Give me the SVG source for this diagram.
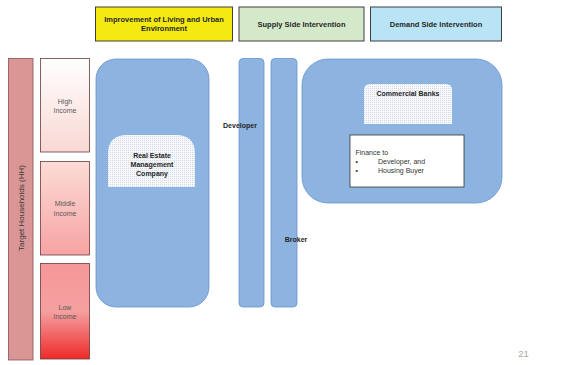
<svg xmlns="http://www.w3.org/2000/svg" width="561" height="365" viewBox="0 0 561 365">
<style>
.hdr{stroke:#3f3f3f;stroke-width:1}
.ht{font-family:"Liberation Sans",Arial,sans-serif;font-size:7.5px;font-weight:bold;fill:#262626;text-anchor:middle}
.inc{stroke:#6b3a3a;stroke-width:0.8}
.it{font-family:"Liberation Sans",Arial,sans-serif;font-size:7px;fill:#595959;text-anchor:middle}
.blue{fill:#8db3e0;stroke:#6a93c9;stroke-width:0.8}
.bt{font-family:"Liberation Sans",Arial,sans-serif;font-size:7px;font-weight:bold;fill:#262626;text-anchor:middle}
.tex{fill:url(#dots)}
.ft{font-family:"Liberation Sans",Arial,sans-serif;font-size:7px;fill:#333}
</style>
<defs>
<pattern id="dots" width="2" height="2" patternUnits="userSpaceOnUse">
<rect width="2" height="2" fill="#f7f8fb"/>
<rect width="1" height="1" fill="#d3dae6"/>
</pattern>
<linearGradient id="gHigh" x1="0" y1="0" x2="0" y2="1">
<stop offset="0" stop-color="#ffffff"/>
<stop offset="1" stop-color="#f9d8d3"/>
</linearGradient>
<linearGradient id="gMid" x1="0" y1="0" x2="0" y2="1">
<stop offset="0" stop-color="#fcdcd6"/>
<stop offset="1" stop-color="#f6a3a3"/>
</linearGradient>
<linearGradient id="gLow" x1="0" y1="0" x2="0" y2="1">
<stop offset="0" stop-color="#f6979a"/>
<stop offset="0.5" stop-color="#f5a0a0"/>
<stop offset="1" stop-color="#ee2a2a"/>
</linearGradient>
</defs>
<rect width="561" height="365" fill="#ffffff"/>

<g id="hdr-living">
<rect class="hdr" x="95.5" y="7" width="137" height="34" fill="#f5e912"/>
<text class="ht" x="164" y="21.5">Improvement of Living and Urban</text>
<text class="ht" x="164" y="31">Environment</text>
</g>
<g id="hdr-supply">
<rect class="hdr" x="239" y="7" width="125" height="34" fill="#d4e9c9"/>
<text class="ht" x="301.5" y="26.5">Supply Side Intervention</text>
</g>
<g id="hdr-demand">
<rect class="hdr" x="370.5" y="7" width="131" height="34" fill="#b9e4f6"/>
<text class="ht" x="436" y="26.5">Demand Side Intervention</text>
</g>

<g id="target">
<rect x="8.5" y="58.5" width="24.5" height="301.5" fill="#d99694" stroke="#8a5050" stroke-width="0.8"/>
<text text-anchor="middle" transform="translate(23.5,208) rotate(-90)" style="font-family:'Liberation Sans',Arial,sans-serif;font-size:8px;fill:#3a3a3a">Target Households (HH)</text>
</g>
<g id="high">
<rect class="inc" x="40.5" y="58.5" width="49" height="93.5" fill="url(#gHigh)"/>
<text class="it" x="65" y="104">High</text>
<text class="it" x="65" y="113">Income</text>
</g>
<g id="middle">
<rect class="inc" x="40.5" y="161.5" width="49" height="93.5" fill="url(#gMid)"/>
<text class="it" x="65" y="206">Middle</text>
<text class="it" x="65" y="215.5">Income</text>
</g>
<g id="low">
<rect class="inc" x="40.5" y="263.5" width="49" height="95.5" fill="url(#gLow)"/>
<text class="it" x="65" y="310">Low</text>
<text class="it" x="65" y="319">Income</text>
</g>

<g id="remc">
<rect class="blue" x="96" y="59" width="113" height="248" rx="20" ry="20"/>
<path class="tex" d="M108,187 V154 Q108,135 127,135 H176 Q195,135 195,154 V187 Z"/>
<text class="bt" x="152" y="158">Real Estate</text>
<text class="bt" x="152" y="167">Management</text>
<text class="bt" x="152" y="176">Company</text>
</g>

<g id="developer">
<rect class="blue" x="239" y="58.5" width="25" height="248.5" rx="4" ry="4"/>
<text class="bt" x="240" y="128">Developer</text>
</g>
<g id="broker">
<rect class="blue" x="271" y="58.5" width="26" height="248.5" rx="4" ry="4"/>
<text class="bt" x="296" y="241.5">Broker</text>
</g>

<g id="banks">
<rect class="blue" x="302" y="59" width="200" height="144" rx="26" ry="26"/>
<path class="tex" d="M364,124 V90 Q364,84 370,84 H446 Q452,84 452,90 V124 Z"/>
<text class="bt" x="408" y="96">Commercial Banks</text>
<rect x="350" y="135" width="114" height="52" fill="#ffffff" stroke="#333333" stroke-width="0.8"/>
<text class="ft" x="355.5" y="155">Finance to</text>
<text class="ft" x="355.5" y="164">•</text>
<text class="ft" x="378" y="164">Developer, and</text>
<text class="ft" x="355.5" y="173">•</text>
<text class="ft" x="378" y="173">Housing Buyer</text>
</g>

<g id="connectors"></g>

<text x="523.5" y="356.5" style="font-family:'Liberation Sans',Arial,sans-serif;font-size:9.5px;fill:#a6a6a6" text-anchor="middle">21</text>
</svg>
